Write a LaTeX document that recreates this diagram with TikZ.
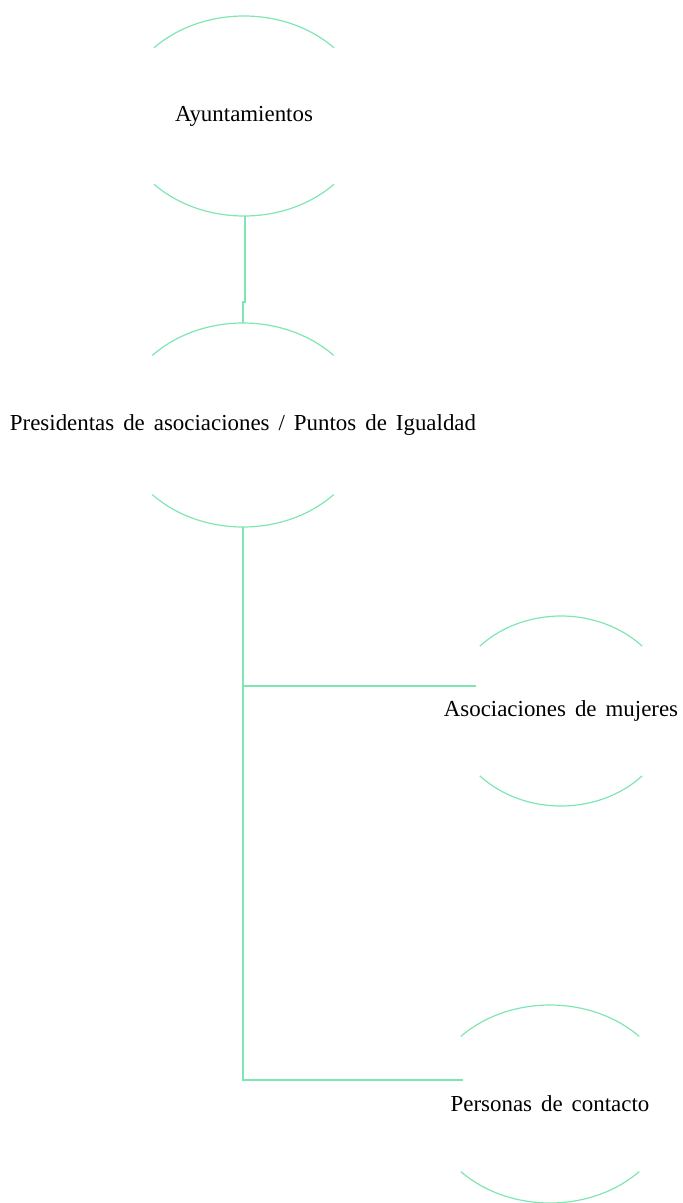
\documentclass[tikz,border=0pt]{standalone}
\usepackage{fontspec}
\setmainfont{Liberation Serif}
\usetikzlibrary{positioning}
\definecolor{verdeclaro}{HTML}{7FE6B2}
\newcommand{\letraetiq}{\fontsize{22.9}{26}\selectfont\spaceskip 9pt plus 1pt\relax}

\begin{document}
\begin{tikzpicture}[x=1pt,y=1pt,
	linea/.style={draw=verdeclaro,line width=1.2pt},
	etiqueta/.style={font=\letraetiq,inner sep=0pt}]
	\useasboundingbox (0,0) rectangle (683,-1203);

	\node[etiqueta](ayto) at (244,-116) {Ayuntamientos};
	\node[etiqueta](pres) at (243,-425) {Presidentas de asociaciones / Puntos de Igualdad};
	\node[etiqueta](asoc) at (561,-711) {Asociaciones de mujeres};
	\node[etiqueta](cont) at (550,-1104) {Personas de contacto};

	% arcos de arriba y de abajo
	\foreach \nd/\rx/\ry in {ayto/123/100,pres/124/102,asoc/111/95,cont/122/99}
	{
		\draw[linea] ([shift={(43:{\rx pt} and {\ry pt})}]\nd.center) arc[start angle=43,end angle=137,x radius=\rx,y radius=\ry];
		\draw[linea] ([shift={(223:{\rx pt} and {\ry pt})}]\nd.center) arc[start angle=223,end angle=317,x radius=\rx,y radius=\ry];
	}

	\coordinate (aytoS) at ([xshift=1pt,yshift=-100pt]ayto.center);
	\coordinate (presN) at ([yshift=102pt]pres.center);
	\coordinate (presS) at ([yshift=-102pt]pres.center);
	\coordinate (asocO) at ([xshift=-85pt,yshift=25pt]asoc.center);
	\coordinate (contO) at ([xshift=-87pt,yshift=24pt]cont.center);

	\draw[linea] (aytoS) -- ++(0,-86) -| (presN);
	\draw[linea] (presS) |- (asocO);
	\draw[linea] (presS) |- (contO);
\end{tikzpicture}
\end{document}
